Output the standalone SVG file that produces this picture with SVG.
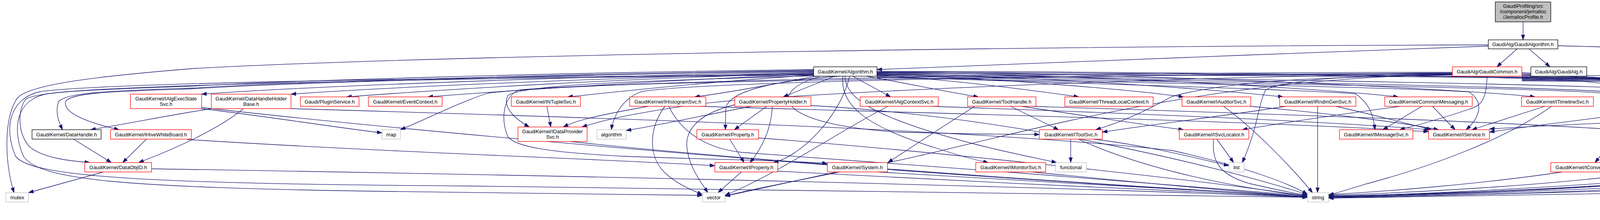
<svg xmlns="http://www.w3.org/2000/svg" width="5976" height="563" viewBox="0 0 5976 563">
<style>
.e path{fill:none;stroke:#191970;stroke-width:1.3;marker-end:url(#ah)}
.r{fill:#fff;stroke:#ff0000;stroke-width:1.3}
.k{fill:#fff;stroke:#000;stroke-width:1.3}
.g{fill:#fff;stroke:#bfbfbf;stroke-width:1.3}
.root{fill:#bfbfbf;stroke:#000;stroke-width:1.3}
text{font-family:"Liberation Sans",Arial,sans-serif;font-size:13px;fill:#000;text-anchor:middle}
</style>
<defs>
<marker id="ah" viewBox="0 0 13 10" refX="13" refY="5" markerWidth="13" markerHeight="10" markerUnits="userSpaceOnUse" orient="auto">
<path d="M0,0.5 L13,5 L0,9.5 Z" fill="#191970" stroke="#191970" stroke-width="1"/>
</marker>
</defs>
<rect x="0" y="0" width="5976" height="563" fill="#fff"/>
<g id="edges" class="e">
<path d="M3899,56 L3899,102"/>
<path d="M3884,125 L3832,171"/>
<path d="M3914,125 L3968,171"/>
<path d="M3810,118 C3300,135 2700,162 2245,178"/>
<path d="M3988,117 C4700,135 5400,168 5780,210 C5920,226 5966,244 5966,265 L5968,400 C5968,425 5955,442 5935,450 C5600,470 4600,488 3401,507"/>
<path d="M3810,115 C2800,117 1200,138 500,175 C250,195 80,215 45,250 C8,300 12,420 36,493"/>
<path d="M3896,192 C4500,196 5300,200 5500,207 C5700,218 5790,232 5810,260 C5838,300 5842,360 5838,410"/>
<path d="M3896,186 C4100,195 4260,232 4345,248"/>
<path d="M2245,183 C3000,183 3900,195 4050,208 C4180,220 4280,238 4333,248"/>
<path d="M3896,189 C4200,198 4450,230 4570,248"/>
<path d="M3896,193 C4300,203 4650,230 4775,248"/>
<path d="M3896,196 C4400,205 4850,230 4972,248"/>
<path d="M3896,199 C4500,205 5150,232 5262,248"/>
<path d="M2245,185 C3300,188 4700,205 5000,218 C5150,226 5250,238 5292,248"/>
<path d="M3896,201 C4600,206 5400,228 5541,241"/>
<path d="M3896,203 C4500,206 5000,212 5100,225 C5145,235 5152,262 5130,283 C5090,310 4950,315 4862,332"/>
<path d="M3896,205 C4500,209 5050,213 5130,226 C5172,238 5178,270 5150,292 C5100,315 4700,318 4600,332"/>
<path d="M2245,188 C3500,194 5200,208 5440,222 C5490,236 5492,272 5460,287 C5300,305 5000,335 4878,340"/>
<path d="M3896,207 C4600,212 5500,216 5700,230 C5770,240 5772,280 5740,302 C5680,345 5600,360 5500,358 C5400,356 5300,360 5200,380 C4700,440 4000,490 3401,504"/>
<path d="M5575,278 C5300,320 5000,400 4600,455 C4200,490 3700,502 3401,505"/>
<path d="M5541,274 C5000,290 4300,300 3813,330"/>
<path d="M5735,446 C5200,465 4000,490 3401,507"/>
<path d="M5287,272 C5000,305 4600,315 4380,332"/>
<path d="M4648,272 L4758,332"/>
<path d="M4320,272 C4150,295 3950,318 3813,338"/>
<path d="M4466,272 C4560,290 4625,320 4620,345 C4612,385 4560,420 4500,433 C4200,470 3700,495 3401,503"/>
<path d="M3955,272 L3768,332"/>
<path d="M3972,272 C3850,360 3650,430 3500,470 C3450,485 3420,494 3401,500"/>
<path d="M3640,272 L3540,332"/>
<path d="M3667,272 L3725,332"/>
<path d="M3585,272 C3450,290 3300,312 3180,332"/>
<path d="M3373,272 L3373,493"/>
<path d="M3420,272 C3520,295 3610,318 3665,332"/>
<path d="M3292,272 C3150,295 2950,318 2822,338"/>
<path d="M3132,272 C3200,320 3300,420 3360,493"/>
<path d="M3200,272 C3400,290 3580,312 3683,332"/>
<path d="M3115,356 L3158,416"/>
<path d="M3107,356 C3100,420 3130,450 3200,470 C3270,486 3320,496 3347,500"/>
<path d="M2741,356 L2741,416"/>
<path d="M2800,356 C2950,375 3050,402 3146,424"/>
<path d="M2760,356 C2900,420 3100,472 3347,502"/>
<path d="M2587,272 L2710,332"/>
<path d="M2615,272 C2800,300 2950,322 3030,332"/>
<path d="M2640,272 C3200,290 3900,312 4255,340"/>
<path d="M2495,272 C2420,320 2320,385 2273,416"/>
<path d="M2273,272 C2150,335 2000,440 1856,500"/>
<path d="M2382,272 C2900,290 3400,310 3660,332"/>
<path d="M1963,272 L1880,332"/>
<path d="M1977,272 C1975,330 1950,380 1920,416"/>
<path d="M1925,272 C1800,295 1700,318 1603,334"/>
<path d="M1881,268 C1790,290 1758,330 1758,370 C1760,420 1790,460 1812,493"/>
<path d="M2076,270 C2600,300 3100,420 3347,498"/>
<path d="M1702,272 C1660,330 1660,400 1700,440 C1730,470 1770,486 1798,498"/>
<path d="M1712,272 C1740,330 1800,380 1900,390 C2300,420 3000,470 3347,501"/>
<path d="M1660,272 C1560,290 1480,305 1442,325"/>
<path d="M1790,272 C2200,285 3200,308 3657,337"/>
<path d="M1400,272 L1410,325"/>
<path d="M541,278 C450,292 350,312 232,332"/>
<path d="M623,278 C560,330 450,380 355,416"/>
<path d="M745,278 C1500,300 2500,330 3000,385 C3200,430 3300,470 3347,497"/>
<path d="M516,278 C700,300 850,325 978,340"/>
<path d="M516,275 C1000,330 2000,420 2800,470 C3100,490 3300,500 3347,503"/>
<path d="M375,356 L314,416"/>
<path d="M480,357 C1000,390 1500,405 1830,424"/>
<path d="M188,356 L285,416"/>
<path d="M265,440 L73,493"/>
<path d="M388,432 C1200,445 2500,470 3347,505"/>
<path d="M1460,362 C1800,400 2600,460 3347,503"/>
<path d="M1868,356 L1905,416"/>
<path d="M1942,353 C2300,380 3000,450 3347,502"/>
<path d="M1898,440 L1838,493"/>
<path d="M1991,438 C2400,460 3000,490 3347,504"/>
<path d="M2245,440 C2600,460 3000,485 3347,503"/>
<path d="M2142,440 C2050,460 1950,482 1856,502"/>
<path d="M2640,440 C2900,465 3150,490 3347,503"/>
<path d="M4325,356 L4285,416"/>
<path d="M4343,356 C4380,380 4385,420 4360,450 C4300,470 3900,490 3401,502"/>
<path d="M4487,356 L4307,416"/>
<path d="M4510,356 C4480,400 4420,440 4300,460 C4000,490 3600,500 3401,503"/>
<path d="M4768,356 C4700,430 4620,450 4500,460 C4100,485 3700,500 3401,504"/>
<path d="M4228,440 C4000,470 3700,490 3401,500"/>
<path d="M4000,440 C3800,470 3550,490 3401,498"/>
<path d="M2083,184 C1500,195 800,220 516,241"/>
<path d="M2083,186 C1600,198 1000,222 745,241"/>
<path d="M2083,188 C1600,200 1150,228 887,248"/>
<path d="M2083,190 C1700,205 1300,232 1095,248"/>
<path d="M2083,192 C1800,210 1580,235 1453,248"/>
<path d="M2090,195 C1980,215 1860,238 1778,248"/>
<path d="M2137,195 L2005,248"/>
<path d="M2183,195 L2280,248"/>
<path d="M2218,195 C2330,215 2440,238 2505,248"/>
<path d="M2245,192 C2450,205 2650,232 2762,248"/>
<path d="M2245,190 C2550,200 2900,230 3030,248"/>
<path d="M2245,188 C2650,195 3100,228 3285,248"/>
<path d="M2245,186 C2800,190 3400,228 3580,248"/>
<path d="M2245,184 C2900,186 3750,228 3930,248"/>
<path d="M2245,190 C3000,200 4000,214 4200,228 C4280,242 4400,290 4460,332"/>
<path d="M2245,192 C3000,204 3950,222 4120,235 C4170,260 4230,350 4267,416"/>
<path d="M2245,194 C3000,210 3950,225 4100,238 C4170,265 4140,350 4083,416"/>
<path d="M2245,196 C2800,215 3300,228 3470,240 C3510,268 3516,300 3520,332"/>
<path d="M2245,198 C2800,210 3500,220 3760,235 C3800,260 3790,300 3753,332"/>
<path d="M2083,194 C1700,205 1330,215 1300,245 C1285,275 1320,305 1355,325"/>
<path d="M2150,195 C2000,205 1860,230 1858,280 C1857,305 1857,322 1857,332"/>
<path d="M2083,180 C1400,190 700,212 500,225 C300,232 170,235 150,260 C140,290 152,315 160,332"/>
<path d="M2083,182 C1400,192 700,214 500,227 C300,234 180,236 168,260 C160,290 230,315 305,332"/>
<path d="M2083,178 C1400,186 700,208 500,220 C300,228 90,232 65,255 C45,285 45,340 75,375 C110,405 180,412 230,416"/>
<path d="M2100,195 C1950,240 2000,320 2300,338 C2500,344 2600,344 2661,344"/>
<path d="M2175,195 C2150,300 2050,400 1980,416"/>
<path d="M2158,195 C2150,260 2200,320 2400,380 C2460,400 2500,410 2530,416"/>
<path d="M2163,195 C2165,250 2230,300 2500,370 C2600,395 2670,408 2705,416"/>
<path d="M2083,192 C1200,200 300,215 120,240 C40,256 30,330 60,400 C100,460 300,480 1000,490 C1500,495 1700,498 1798,500"/>
<path d="M2083,190 C1200,198 250,212 100,235 C22,255 10,330 40,400 C80,455 400,470 1200,476 C2200,484 3000,496 3347,505"/>
<path d="M3718,185 C3000,185 1600,200 1250,238 C1180,260 1080,310 1025,332"/>
<path d="M3718,187 C3000,190 1800,205 1640,235 C1590,255 1570,300 1565,332"/>
<path d="M3718,189 C3000,195 2000,240 1800,265 C1650,285 1550,305 1490,325"/>
<path d="M3718,191 C3000,200 2500,380 2200,430 C2000,470 1900,490 1856,502"/>
<path d="M3718,190 C3500,193 3300,200 3240,230 C3220,270 3220,330 3180,416"/>
<path d="M3718,192 C3400,197 3150,205 3000,247 C2950,275 2880,310 2805,332"/>
<path d="M3807,195 C3805,260 3790,270 3760,280 C3700,300 3650,315 3583,332"/>
<path d="M3718,188 C3000,192 1600,205 1330,230 C1290,245 1280,300 1300,350 C1320,375 1400,390 1600,400 C1800,408 2000,410 2118,418"/>
</g>
<g id="n_root"><rect class="root" x="3828" y="5" width="142" height="51"/><text x="3899" y="20">GaudiProfiling/src</text><text x="3899" y="34">/component/jemalloc</text><text x="3899" y="48">/JemallocProfile.h</text></g>
<g id="n_gaudialgorithm"><rect class="k" x="3810" y="102" width="178" height="23"/><text x="3899" y="118">GaudiAlg/GaudiAlgorithm.h</text></g>
<g id="n_algorithm"><rect class="k" x="2083" y="171" width="162" height="24"/><text x="2164" y="187.6">GaudiKernel/Algorithm.h</text></g>
<g id="n_gaudicommon"><rect class="r" x="3718" y="171" width="178" height="24"/><text x="3807" y="187.6">GaudiAlg/GaudiCommon.h</text></g>
<g id="n_gaudialg"><rect class="k" x="3919" y="171" width="143" height="24"/><text x="3990.5" y="187.6">GaudiAlg/GaudiAlg.h</text></g>
<g id="n_ialgexecstatesvc"><rect class="r" x="334" y="241" width="182" height="37"/><text x="425" y="256.6">GaudiKernel/IAlgExecState</text><text x="425" y="270.6">Svc.h</text></g>
<g id="n_datahandleholderbase"><rect class="r" x="541" y="241" width="204" height="37"/><text x="643" y="256.6">GaudiKernel/DataHandleHolder</text><text x="643" y="270.6">Base.h</text></g>
<g id="n_pluginservice"><rect class="r" x="769" y="248" width="150" height="24"/><text x="844" y="264.6">Gaudi/PluginService.h</text></g>
<g id="n_eventcontext"><rect class="r" x="943" y="248" width="189" height="24"/><text x="1037.5" y="264.6">GaudiKernel/EventContext.h</text></g>
<g id="n_intuplesvc"><rect class="r" x="1309" y="248" width="177" height="24"/><text x="1397.5" y="264.6">GaudiKernel/INTupleSvc.h</text></g>
<g id="n_ihistogramsvc"><rect class="r" x="1612" y="248" width="195" height="24"/><text x="1709.5" y="264.6">GaudiKernel/IHistogramSvc.h</text></g>
<g id="n_propertyholder"><rect class="r" x="1881" y="248" width="195" height="24"/><text x="1978.5" y="264.6">GaudiKernel/PropertyHolder.h</text></g>
<g id="n_ialgcontextsvc"><rect class="r" x="2202" y="248" width="200" height="24"/><text x="2302" y="264.6">GaudiKernel/IAlgContextSvc.h</text></g>
<g id="n_toolhandle"><rect class="r" x="2477" y="248" width="175" height="24"/><text x="2564.5" y="264.6">GaudiKernel/ToolHandle.h</text></g>
<g id="n_threadlocalcontext"><rect class="r" x="2726" y="248" width="226" height="24"/><text x="2839" y="264.6">GaudiKernel/ThreadLocalContext.h</text></g>
<g id="n_iauditorsvc"><rect class="r" x="3026" y="248" width="176" height="24"/><text x="3114" y="264.6">GaudiKernel/IAuditorSvc.h</text></g>
<g id="n_irndmgensvc"><rect class="r" x="3276" y="248" width="195" height="24"/><text x="3373.5" y="264.6">GaudiKernel/IRndmGenSvc.h</text></g>
<g id="n_commonmessaging"><rect class="r" x="3545" y="248" width="224" height="24"/><text x="3657" y="264.6">GaudiKernel/CommonMessaging.h</text></g>
<g id="n_itimelinesvc"><rect class="r" x="3895" y="248" width="184" height="24"/><text x="3987" y="264.6">GaudiKernel/ITimelineSvc.h</text></g>
<g id="n_ichronostatsvc"><rect class="r" x="4306" y="248" width="201" height="24"/><text x="4406.5" y="264.6">GaudiKernel/IChronoStatSvc.h</text></g>
<g id="n_iexceptionsvc"><rect class="r" x="4531" y="248" width="194" height="24"/><text x="4628" y="264.6">GaudiKernel/IExceptionSvc.h</text></g>
<g id="n_hashmap"><rect class="r" x="4749" y="248" width="164" height="24"/><text x="4831" y="264.6">GaudiKernel/HashMap.h</text></g>
<g id="n_smartdataptr"><rect class="r" x="4937" y="248" width="188" height="24"/><text x="5031" y="264.6">GaudiKernel/SmartDataPtr.h</text></g>
<g id="n_dataobjecthandle"><rect class="r" x="5252" y="248" width="214" height="24"/><text x="5359" y="264.6">GaudiKernel/DataObjectHandle.h</text></g>
<g id="n_icountersummarysvc"><rect class="k" x="5541" y="241" width="203" height="37"/><text x="5642.5" y="256.6">GaudiKernel/ICounterSummary</text><text x="5642.5" y="270.6">Svc.h</text></g>
<g id="n_datahandle"><rect class="k" x="82" y="332" width="177" height="24"/><text x="170.5" y="348.6">GaudiKernel/DataHandle.h</text></g>
<g id="n_ihivewhiteboard"><rect class="r" x="283" y="332" width="207" height="24"/><text x="386.5" y="348.6">GaudiKernel/IHiveWhiteBoard.h</text></g>
<g id="n_map"><rect class="g" x="978" y="332" width="47" height="24"/><text x="1001.5" y="348.6">map</text></g>
<g id="n_idataprovidersvc"><rect class="r" x="1326" y="325" width="177" height="37"/><text x="1414.5" y="340.6">GaudiKernel/IDataProvider</text><text x="1414.5" y="354.6">Svc.h</text></g>
<g id="n_algorithm_std"><rect class="g" x="1528" y="332" width="75" height="24"/><text x="1565.5" y="348.6">algorithm</text></g>
<g id="n_property"><rect class="r" x="1784" y="332" width="158" height="24"/><text x="1863" y="348.6">GaudiKernel/Property.h</text></g>
<g id="n_itoolsvc"><rect class="r" x="2661" y="332" width="161" height="24"/><text x="2741.5" y="348.6">GaudiKernel/IToolSvc.h</text></g>
<g id="n_isvclocator"><rect class="r" x="3019" y="332" width="178" height="24"/><text x="3108" y="348.6">GaudiKernel/ISvcLocator.h</text></g>
<g id="n_imessagesvc"><rect class="r" x="3429" y="332" width="188" height="24"/><text x="3523" y="348.6">GaudiKernel/IMessageSvc.h</text></g>
<g id="n_iservice"><rect class="r" x="3657" y="332" width="156" height="24"/><text x="3735" y="348.6">GaudiKernel/IService.h</text></g>
<g id="n_ialgtool"><rect class="r" x="4255" y="332" width="157" height="24"/><text x="4333.5" y="348.6">GaudiKernel/IAlgTool.h</text></g>
<g id="n_ialgorithm"><rect class="r" x="4436" y="332" width="166" height="24"/><text x="4519" y="348.6">GaudiKernel/IAlgorithm.h</text></g>
<g id="n_gaudiexception"><rect class="r" x="4677" y="332" width="201" height="24"/><text x="4777.5" y="348.6">GaudiKernel/GaudiException.h</text></g>
<g id="n_dataobjid"><rect class="r" x="217" y="416" width="171" height="24"/><text x="302.5" y="432.6">GaudiKernel/DataObjID.h</text></g>
<g id="n_iproperty"><rect class="r" x="1830" y="416" width="161" height="24"/><text x="1910.5" y="432.6">GaudiKernel/IProperty.h</text></g>
<g id="n_system"><rect class="r" x="2118" y="416" width="154" height="24"/><text x="2195" y="432.6">GaudiKernel/System.h</text></g>
<g id="n_imonitorsvc"><rect class="r" x="2498" y="416" width="179" height="24"/><text x="2587.5" y="432.6">GaudiKernel/IMonitorSvc.h</text></g>
<g id="n_functional"><rect class="g" x="2702" y="416" width="79" height="24"/><text x="2741.5" y="432.6">functional</text></g>
<g id="n_list"><rect class="g" x="3146" y="416" width="39" height="24"/><text x="3165.5" y="432.6">list</text></g>
<g id="n_iconversionsvc"><rect class="r" x="3970" y="416" width="202" height="24"/><text x="4071" y="432.6">GaudiKernel/IConversionSvc.h</text></g>
<g id="n_istateful"><rect class="r" x="4196" y="416" width="158" height="24"/><text x="4275" y="432.6">GaudiKernel/IStateful.h</text></g>
<g id="n_iupdatemanagersvc"><rect class="r" x="5735" y="410" width="194" height="37"/><text x="5832" y="425.6">GaudiKernel/IUpdateManager</text><text x="5832" y="439.6">Svc.h</text></g>
<g id="n_mutex"><rect class="g" x="15" y="493" width="58" height="24"/><text x="44" y="509.6">mutex</text></g>
<g id="n_vector"><rect class="g" x="1798" y="493" width="58" height="24"/><text x="1827" y="509.6">vector</text></g>
<g id="n_string"><rect class="g" x="3347" y="493" width="54" height="24"/><text x="3374" y="509.6">string</text></g>
</svg>
